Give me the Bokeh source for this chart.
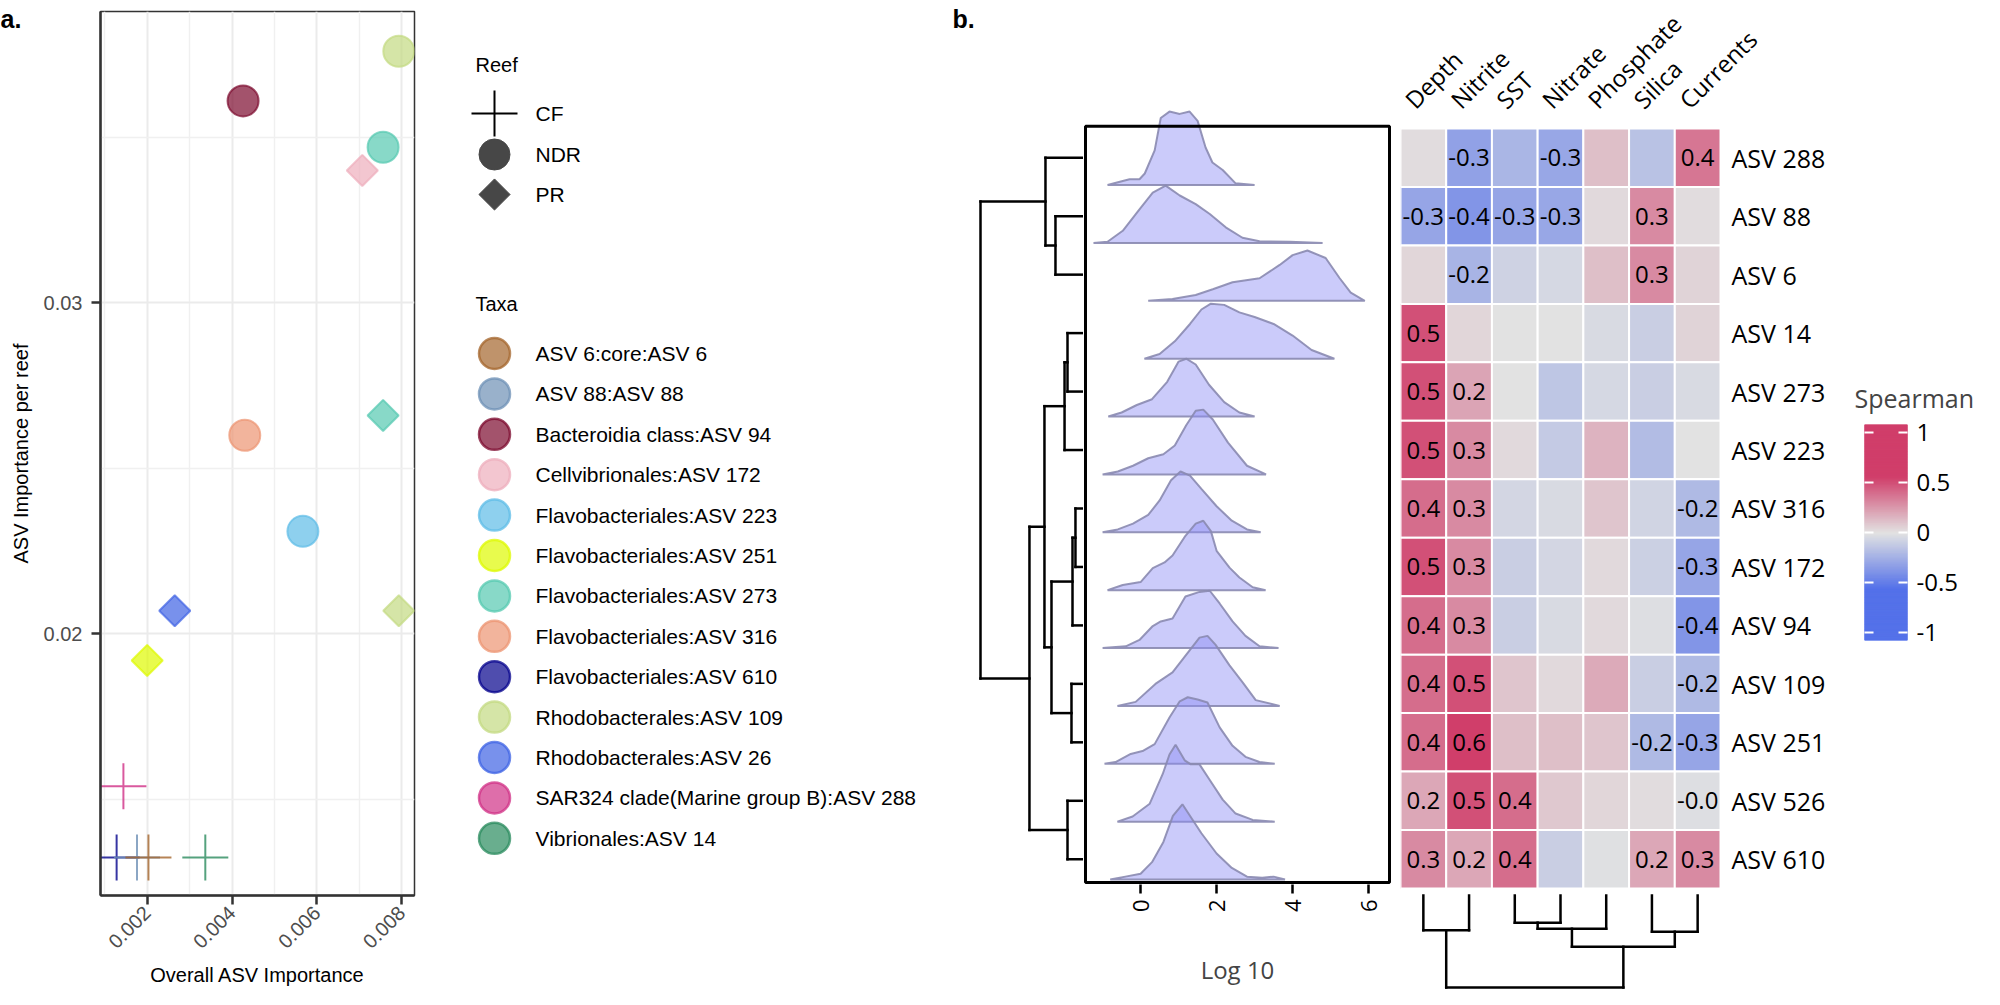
import math
from bokeh.plotting import figure
from bokeh.layouts import row, column
from bokeh.models import (Range1d, FixedTicker, PrintfTickFormatter, LinearAxis,
                          ColumnDataSource, CustomJSTickFormatter)
from bokeh.core.properties import value
from bokeh.embed import file_html
from bokeh.resources import INLINE

FONT_A = "Liberation Sans"
FONT_B = "Open Sans"

# ------------------------------------------------------------------ panel a data
taxa = ["ASV 6:core:ASV 6", "ASV 88:ASV 88", "Bacteroidia class:ASV 94",
        "Cellvibrionales:ASV 172", "Flavobacteriales:ASV 223", "Flavobacteriales:ASV 251",
        "Flavobacteriales:ASV 273", "Flavobacteriales:ASV 316", "Flavobacteriales:ASV 610",
        "Rhodobacterales:ASV 109", "Rhodobacterales:ASV 26",
        "SAR324 clade(Marine group B):ASV 288", "Vibrionales:ASV  14"]
taxa_colors = ["#A4652C", "#6E90B5", "#7C0A2E", "#EEAEBC", "#5EBCE7", "#DEF901",
               "#55C9B0", "#EC9472", "#04028C", "#C3DA81", "#3E63E4", "#D03086", "#2A8B5E"]
reefs = ["CF", "NDR", "PR"]

pt_taxon = ["Rhodobacterales:ASV 109", "Bacteroidia class:ASV 94", "Flavobacteriales:ASV 273",
            "Cellvibrionales:ASV 172", "Flavobacteriales:ASV 316", "Flavobacteriales:ASV 273",
            "Flavobacteriales:ASV 223", "Rhodobacterales:ASV 26", "Rhodobacterales:ASV 109",
            "Flavobacteriales:ASV 251", "SAR324 clade(Marine group B):ASV 288",
            "Flavobacteriales:ASV 610", "ASV 88:ASV 88", "ASV 6:core:ASV 6", "Vibrionales:ASV  14"]
pt_reef = ["NDR", "NDR", "NDR", "PR", "NDR", "PR", "NDR", "PR", "PR", "PR",
           "CF", "CF", "CF", "CF", "CF"]
pt_overall = [0.00793, 0.00426, 0.00756, 0.00707, 0.00430, 0.00756, 0.00567, 0.00265,
              0.00793, 0.00200, 0.00144, 0.00128, 0.00176, 0.00203, 0.00337]
pt_per_reef = [0.0376, 0.0361, 0.0347, 0.0340, 0.0260, 0.0266, 0.0231, 0.0207,
               0.0207, 0.0192, 0.0154, 0.01325, 0.01325, 0.01325, 0.01325]

x_major = [0.002, 0.004, 0.006, 0.008]
x_minor = [0.001, 0.003, 0.005, 0.007]
y_major = [0.02, 0.03]
y_minor = [0.015, 0.025, 0.035]

# ------------------------------------------------------------------ panel b data
asv_rows = ["ASV 288", "ASV 88", "ASV 6", "ASV 14", "ASV 273", "ASV 223", "ASV 316",
            "ASV 172", "ASV 94", "ASV 109", "ASV 251", "ASV 526", "ASV 610"]
env_cols = ["Depth", "Nitrite", "SST", "Nitrate", "Phosphate", "Silica", "Currents"]

spearman_rho = [
    [0.02, -0.32, -0.22, -0.29, 0.12, -0.16, 0.37],
    [-0.30, -0.38, -0.30, -0.29, 0.03, 0.30, 0.02],
    [0.04, -0.23, -0.08, -0.05, 0.12, 0.30, 0.05],
    [0.50, 0.04, 0.00, 0.00, -0.04, -0.10, 0.05],
    [0.50, 0.21, 0.00, -0.14, -0.05, -0.10, -0.04],
    [0.50, 0.30, 0.03, -0.12, 0.16, -0.19, 0.00],
    [0.40, 0.30, -0.06, -0.04, 0.10, -0.07, -0.20],
    [0.50, 0.30, -0.10, -0.06, 0.03, -0.09, -0.30],
    [0.40, 0.30, -0.10, -0.04, 0.03, -0.02, -0.38],
    [0.40, 0.50, 0.10, 0.03, 0.19, -0.10, -0.20],
    [0.40, 0.60, 0.12, 0.12, 0.10, -0.20, -0.30],
    [0.20, 0.50, 0.40, 0.09, 0.04, 0.02, -0.02],
    [0.30, 0.20, 0.40, -0.10, -0.01, 0.20, 0.30],
]
rho_shown = [
    [0, 1, 0, 1, 0, 0, 1],
    [1, 1, 1, 1, 0, 1, 0],
    [0, 1, 0, 0, 0, 1, 0],
    [1, 0, 0, 0, 0, 0, 0],
    [1, 1, 0, 0, 0, 0, 0],
    [1, 1, 0, 0, 0, 0, 0],
    [1, 1, 0, 0, 0, 0, 1],
    [1, 1, 0, 0, 0, 0, 1],
    [1, 1, 0, 0, 0, 0, 1],
    [1, 1, 0, 0, 0, 0, 1],
    [1, 1, 0, 0, 0, 1, 1],
    [1, 1, 1, 0, 0, 0, 1],
    [1, 1, 1, 0, 0, 1, 1],
]

# log10 abundance density curves (x in log10 units, density in row heights)
ridge_log10 = [
    [-0.87, -0.47, -0.29, -0.03, 0.11, 0.37, 0.53, 0.76, 1.03, 1.29, 1.5, 1.71, 1.89, 2.16, 2.5, 3.0],
    [-1.24, -0.87, -0.47, -0.03, 0.32, 0.66, 1.03, 1.45, 1.82, 2.24, 2.68, 3.13, 3.92, 4.79],
    [0.2, 0.84, 1.45, 1.9, 2.42, 3.13, 3.66, 4.0, 4.39, 4.87, 5.24, 5.53, 5.9],
    [0.1, 0.5, 0.9, 1.3, 1.6, 1.85, 2.2, 2.6, 3.0, 3.5, 4.0, 4.5, 5.1],
    [-0.85, -0.5, -0.1, 0.3, 0.7, 1.0, 1.2, 1.45, 1.8, 2.2, 2.6, 3.0],
    [-1.0, -0.6, -0.2, 0.2, 0.6, 0.9, 1.2, 1.45, 1.65, 1.9, 2.3, 2.8, 3.3],
    [-1.0, -0.6, -0.2, 0.2, 0.5, 0.8, 1.05, 1.3, 1.6, 2.0, 2.4, 2.8, 3.16],
    [-0.87, -0.47, 0.0, 0.32, 0.63, 0.84, 1.18, 1.45, 1.65, 1.85, 2.0, 2.34, 2.6, 2.95, 3.29],
    [-1.0, -0.39, -0.03, 0.32, 0.53, 0.84, 1.18, 1.55, 1.82, 2.08, 2.42, 2.76, 3.13, 3.63],
    [-0.61, -0.13, 0.39, 0.84, 1.29, 1.55, 1.76, 1.97, 2.34, 2.68, 3.03, 3.66],
    [-0.95, -0.66, -0.26, 0.05, 0.37, 0.76, 1.03, 1.24, 1.5, 1.76, 2.08, 2.42, 2.76, 3.13, 3.53],
    [-0.61, -0.21, 0.24, 0.58, 0.76, 0.92, 1.16, 1.32, 1.55, 1.82, 2.16, 2.5, 2.95, 3.53],
    [-0.8, -0.4, 0.0, 0.3, 0.6, 0.85, 1.1, 1.35, 1.6, 2.0, 2.4, 2.8, 3.2, 3.5, 3.8],
]
ridge_density = [
    [0, 0.07, 0.1, 0.1, 0.2, 0.6, 1.16, 1.27, 1.23, 1.27, 1.11, 0.65, 0.39, 0.26, 0.03, 0],
    [0, 0.02, 0.21, 0.58, 0.87, 0.99, 0.82, 0.67, 0.5, 0.27, 0.09, 0.03, 0.02, 0],
    [0, 0.03, 0.1, 0.2, 0.32, 0.39, 0.62, 0.79, 0.87, 0.74, 0.39, 0.14, 0],
    [0, 0.08, 0.3, 0.6, 0.85, 0.95, 0.93, 0.8, 0.72, 0.6, 0.4, 0.15, 0],
    [0, 0.07, 0.2, 0.3, 0.6, 0.95, 1.0, 0.9, 0.55, 0.25, 0.07, 0],
    [0, 0.05, 0.15, 0.28, 0.35, 0.5, 0.85, 1.1, 1.12, 0.95, 0.55, 0.15, 0],
    [0, 0.05, 0.15, 0.3, 0.55, 0.9, 1.05, 0.98, 0.75, 0.45, 0.2, 0.05, 0],
    [0, 0.09, 0.14, 0.38, 0.48, 0.6, 0.94, 1.15, 1.2, 1.02, 0.68, 0.39, 0.22, 0.05, 0],
    [0, 0.03, 0.14, 0.38, 0.46, 0.51, 0.89, 0.97, 0.99, 0.77, 0.46, 0.21, 0.03, 0],
    [0, 0.07, 0.38, 0.58, 0.96, 1.18, 1.21, 1.06, 0.7, 0.41, 0.1, 0],
    [0, 0.03, 0.17, 0.22, 0.34, 0.8, 1.08, 1.15, 1.11, 1.06, 0.63, 0.31, 0.12, 0.03, 0],
    [0, 0.09, 0.31, 0.82, 1.16, 1.33, 1.06, 0.99, 0.99, 0.72, 0.38, 0.14, 0.03, 0],
    [0, 0.05, 0.1, 0.3, 0.65, 1.1, 1.3, 1.05, 0.8, 0.45, 0.2, 0.05, 0.03, 0.05, 0],
]
ridge_ticks = [0, 2, 4, 6]

# hierarchical clustering: (child a, child b, height); leaves 0..n-1, clusters n+k
row_merges = [(1, 2, 0.265), (0, 13, 0.363), (3, 4, 0.147), (15, 5, 0.176),
              (6, 7, 0.069), (17, 8, 0.098), (9, 10, 0.108), (18, 19, 0.304),
              (16, 20, 0.373), (11, 12, 0.147), (21, 22, 0.52), (14, 23, 1.0)]
col_merges = [(0, 1, 0.377), (2, 3, 0.295), (8, 4, 0.361), (5, 6, 0.393),
              (9, 10, 0.557), (7, 11, 1.0)]

cbar_ticks = [-1, -0.5, 0, 0.5, 1]

# ------------------------------------------------------------------ helpers
def dendro_segments(merges, n):
    pos = {i: i + 0.5 for i in range(n)}
    hgt = {i: 0.0 for i in range(n)}
    p0, h0, p1, h1 = [], [], [], []
    for k, (a, b, h) in enumerate(merges):
        for c in (a, b):
            p0.append(pos[c]); h0.append(hgt[c]); p1.append(pos[c]); h1.append(h)
        p0.append(pos[a]); h0.append(h); p1.append(pos[b]); h1.append(h)
        pos[n + k] = (pos[a] + pos[b]) / 2.0
        hgt[n + k] = h
    return p0, h0, p1, h1


NEG = (84, 113, 233)
MID = (226, 226, 226)
POS = (208, 62, 106)
SAT = 0.56
CB_LO, CB_HI = -1.08, 1.08


def rho_color(v):
    t = max(-1.0, min(1.0, v / SAT))
    end = POS if t >= 0 else NEG
    t = abs(t)
    c = [round(MID[i] + (end[i] - MID[i]) * t) for i in range(3)]
    return "#%02x%02x%02x" % tuple(c)


palette = [rho_color(CB_LO + (i + 0.5) * (CB_HI - CB_LO) / 256) for i in range(256)]


def bare(p):
    p.grid.visible = False
    p.outline_line_color = None
    p.background_fill_color = "white"
    p.border_fill_color = "white"


H = 989
SH = 6          # global shift of the drawing (px) right and down
COMMON = dict(output_backend="svg", toolbar_location=None, height=H)
NOBORDER = dict(min_border_left=0, min_border_right=0, min_border_top=0, min_border_bottom=0)

# ------------------------------------------------------------------ panel a: tag + y title strip
TAG_W = 40
A_TOP, A_BOT = 5 + SH, H - (100 - SH)
pt = figure(width=TAG_W, x_range=Range1d(0, TAG_W), y_range=Range1d(H, 0),
            x_axis_location=None, y_axis_location=None, **NOBORDER, **COMMON)
bare(pt)
pt.text(x=[0], y=[18], text=["a."], text_font=value(FONT_A), text_font_size="25px",
        text_font_style="bold", text_baseline="alphabetic", text_color="black")
pt.text(x=[20], y=[(A_TOP + A_BOT) / 2], text=["ASV Importance per reef"], angle=math.pi / 2,
        text_align="center", text_baseline="middle", text_font=value(FONT_A),
        text_font_size="20px", text_color="black")

# ------------------------------------------------------------------ panel a: scatter
pa = figure(width=446 - TAG_W, x_range=Range1d(0.0009, 0.0083), y_range=Range1d(0.0121, 0.0388),
            min_border_left=98 - TAG_W, min_border_right=32, min_border_top=A_TOP,
            min_border_bottom=H - A_BOT, **COMMON)
pa.outline_line_color = "#333333"
pa.outline_line_width = 1.5
pa.xaxis.ticker = FixedTicker(ticks=x_major, minor_ticks=x_minor)
pa.yaxis.ticker = FixedTicker(ticks=y_major, minor_ticks=y_minor)
pa.xaxis.formatter = PrintfTickFormatter(format="%.3f")
pa.yaxis.formatter = PrintfTickFormatter(format="%.2f")
for ax in (pa.xaxis, pa.yaxis):
    ax.axis_line_color = "#333333"
    ax.axis_line_width = 2.5
    ax.major_tick_line_color = "#333333"
    ax.major_tick_line_width = 2.5
    ax.major_tick_out = 9
    ax.major_tick_in = 0
    ax.minor_tick_line_color = None
    ax.major_label_text_color = "#4D4D4D"
    ax.major_label_text_font = FONT_A
    ax.major_label_text_font_size = "20px"
    ax.axis_label_text_font = FONT_A
    ax.axis_label_text_font_size = "20px"
    ax.axis_label_text_font_style = "normal"
    ax.axis_label_text_color = "black"
pa.yaxis.major_label_standoff = 9
pa.xaxis.major_label_standoff = 5
pa.xaxis.axis_label_standoff = 6
pa.xaxis.major_label_orientation = math.pi / 4
pa.xaxis.axis_label = "Overall ASV Importance"
pa.grid.grid_line_color = "#EBEBEB"
pa.grid.grid_line_width = 2
pa.grid.minor_grid_line_color = "#F0F0F0"
pa.grid.minor_grid_line_width = 1.5

for reef in reefs:
    idx = [i for i, r in enumerate(pt_reef) if r == reef]
    src = ColumnDataSource(dict(
        x=[pt_overall[i] for i in idx],
        y=[pt_per_reef[i] for i in idx],
        c=[taxa_colors[taxa.index(pt_taxon[i])] for i in idx]))
    if reef == "NDR":
        pa.scatter("x", "y", source=src, marker="circle", size=31, fill_color="c",
                   fill_alpha=0.7, line_color="c", line_alpha=0.7, line_width=2)
    elif reef == "PR":
        pa.scatter("x", "y", source=src, marker="square", angle=math.pi / 4, size=22,
                   fill_color="c", fill_alpha=0.7, line_color="c", line_alpha=0.7, line_width=2)
    else:
        pa.scatter("x", "y", source=src, marker="cross", size=46, line_color="c",
                   line_alpha=0.8, line_width=2)

# ------------------------------------------------------------------ legend (panel a)
pl = figure(width=504 - SH, x_range=Range1d(440, 944 - SH), y_range=Range1d(H - SH, -SH),
            x_axis_location=None, y_axis_location=None, **NOBORDER, **COMMON)
bare(pl)
LX_T, LX_K, LX_L = 469, 488, 529
pl.text(x=[LX_T, LX_T], y=[58, 297], text=["Reef", "Taxa"], text_font=value(FONT_A),
        text_font_size="20px", text_baseline="middle", text_color="black")
reef_y = [107, 148, 188]
pl.scatter(x=[LX_K], y=[reef_y[0]], marker="cross", size=46, line_color="black", line_width=2)
pl.scatter(x=[LX_K], y=[reef_y[1]], marker="circle", size=31, fill_color="#474747", line_color="#474747")
pl.scatter(x=[LX_K], y=[reef_y[2]], marker="square", angle=math.pi / 4, size=22,
           fill_color="#474747", line_color="#474747")
pl.text(x=[LX_L] * 3, y=reef_y, text=reefs, text_font=value(FONT_A), text_font_size="21px",
        text_baseline="middle", text_color="black")
taxa_y = [347 + 40.4 * i for i in range(len(taxa))]
pl.scatter(x=[LX_K] * len(taxa), y=taxa_y, marker="circle", size=31, fill_color=taxa_colors,
           fill_alpha=0.7, line_color=taxa_colors, line_alpha=0.75, line_width=2.5)
pl.text(x=[LX_L] * len(taxa), y=taxa_y, text=taxa, text_font=value(FONT_A), text_font_size="21px",
        text_baseline="middle", text_color="black")

# ------------------------------------------------------------------ panel b geometry
ROW_TOP, ROW_H = 122.0 + SH, 58.46


def v_of(y_local):
    return (y_local - ROW_TOP) / ROW_H


n_rows, n_cols = len(asv_rows), len(env_cols)

# row dendrogram
D_LEAF, D_UNIT = 1082.0, 102.0
pd = figure(width=139, x_range=Range1d((D_LEAF - 944) / D_UNIT, (D_LEAF - 1083) / D_UNIT),
            y_range=Range1d(v_of(H), v_of(0)), x_axis_location=None, y_axis_location=None,
            **NOBORDER, **COMMON)
bare(pd)
p0, h0, p1, h1 = dendro_segments(row_merges, n_rows)
pd.segment(x0=h0, y0=p0, x1=h1, y1=p1, line_color="black", line_width=2.5, line_cap="square")
pd.text(x=[(D_LEAF - 952) / D_UNIT], y=[v_of(12 + SH)], text=["b."], text_font=value(FONT_A),
        text_font_size="25px", text_font_style="bold", text_baseline="alphabetic", text_color="black")

# ridgelines
RX_LO, RX_HI = -1.45, 6.55
R_BOT = 887 + SH
pr = figure(width=317, x_range=Range1d(-1.503, 6.603), y_range=Range1d(v_of(R_BOT), v_of(0)),
            y_axis_location=None,
            min_border_left=0, min_border_right=9, min_border_top=0, min_border_bottom=H - R_BOT, **COMMON)
pr.grid.visible = False
pr.outline_line_color = None
pr.patches(xs=ridge_log10,
           ys=[[(i + 1) - d for d in ridge_density[i]] for i in range(n_rows)],
           fill_color="#8C8CF5", fill_alpha=0.45, line_color="#8A8AB0", line_alpha=0.9, line_width=2)
pr.quad(left=[RX_LO], right=[RX_HI], top=[v_of(121 + SH)], bottom=[v_of(R_BOT - 2)], fill_color=None,
        line_color="black", line_width=3)
xa = pr.xaxis[0]
xa.ticker = FixedTicker(ticks=ridge_ticks)
xa.major_label_orientation = math.pi / 2
xa.axis_line_color = None
xa.major_tick_out = 9
xa.major_tick_in = 0
xa.major_tick_line_width = 2.5
xa.major_tick_line_color = "black"
xa.minor_tick_line_color = None
xa.major_label_text_font = FONT_B
xa.major_label_text_font_size = "22px"
xa.major_label_text_color = "black"
xa.major_label_standoff = 6
xa.axis_label = "Log 10"
xa.axis_label_text_font = FONT_B
xa.axis_label_text_font_size = "24px"
xa.axis_label_text_font_style = "normal"
xa.axis_label_standoff = 38

# heatmap + column dendrogram
C_LEFT, C_W = 1400.0, 320.0 / 7
HEAT_W = 450
ph = figure(width=HEAT_W, x_range=Range1d(0, HEAT_W / C_W), y_range=Range1d(v_of(H), v_of(0)),
            x_axis_location=None, y_axis_location=None, **NOBORDER, **COMMON)
bare(ph)
cx, cy, cv, tx, ty, tt = [], [], [], [], [], []
for i in range(n_rows):
    for j in range(n_cols):
        cx.append(j + 0.5); cy.append(i + 0.5); cv.append(spearman_rho[i][j])
        if rho_shown[i][j]:
            tx.append(j + 0.5); ty.append(i + 0.5); tt.append("%.1f" % spearman_rho[i][j])
ph.rect(x=cx, y=cy, width=1, height=1, fill_color=[rho_color(v) for v in cv],
        line_color="white", line_width=2)
ph.text(x=tx, y=ty, text=tt, text_align="center", text_baseline="middle", text_font=value(FONT_B),
        text_font_size="24px", text_color="black")
ph.text(x=[(1731 - C_LEFT) / C_W] * n_rows, y=[i + 0.5 for i in range(n_rows)], text=asv_rows,
        text_baseline="middle", text_font=value(FONT_B), text_font_size="25px", text_color="black")
ph.text(x=[j + 0.44 for j in range(n_cols)], y=[v_of(109 + SH)] * n_cols, text=env_cols,
        angle=math.pi / 4, text_align="left", text_baseline="bottom", text_font=value(FONT_B),
        text_font_size="24px", text_color="black")
# column dendrogram: height 0 just below the heatmap, height 1 near the bottom of the page
CD_TOP = 889.0 + SH
CD_UNIT = (H - 2) - CD_TOP
q0, g0, q1, g1 = dendro_segments(col_merges, n_cols)
ph.segment(x0=q0, y0=[v_of(CD_TOP + CD_UNIT * g) for g in g0], x1=q1,
           y1=[v_of(CD_TOP + CD_UNIT * g) for g in g1], line_color="black", line_width=2.5,
           line_cap="square")

# colour bar
pc = figure(width=134, x_range=Range1d(0, 1), y_range=Range1d(CB_LO, CB_HI),
            x_axis_location=None, y_axis_location=None,
            min_border_left=14, min_border_right=77, min_border_top=418 + SH,
            min_border_bottom=H - 634 - SH, **COMMON)
pc.grid.visible = False
pc.outline_line_color = None
edges = [CB_LO + k * (CB_HI - CB_LO) / 256 for k in range(257)]
pc.quad(left=0, right=1, bottom=edges[:-1], top=edges[1:], fill_color=palette, line_color=palette,
        line_width=1)
fmt = CustomJSTickFormatter(code="return tick.toString();")
for side in ("left", "right"):
    ax = LinearAxis(ticker=FixedTicker(ticks=cbar_ticks), formatter=fmt)
    ax.axis_line_color = None
    ax.major_tick_in = 9
    ax.major_tick_out = 0
    ax.major_tick_line_color = "white"
    ax.major_tick_line_width = 2
    ax.minor_tick_line_color = None
    ax.major_label_text_font = FONT_B
    ax.major_label_text_font_size = "24px"
    ax.major_label_text_color = "black"
    ax.major_label_standoff = 9
    if side == "left":
        ax.major_label_text_color = None
        ax.major_label_text_font_size = "1px"
        ax.major_label_standoff = 0
    pc.add_layout(ax, side)
pc.title.text = "Spearman"
pc.title.text_font = FONT_B
pc.title.text_font_size = "25px"
pc.title.text_font_style = "normal"
pc.title.align = "left"
pc.title.offset = -10
pc.title.standoff = 20

# each plot in its own column so that the row does not align the plot frames
layout = row(*[column(f) for f in (pt, pa, pl, pd, pr, ph, pc)])
open("out.html", "w").write(file_html(layout, INLINE))
